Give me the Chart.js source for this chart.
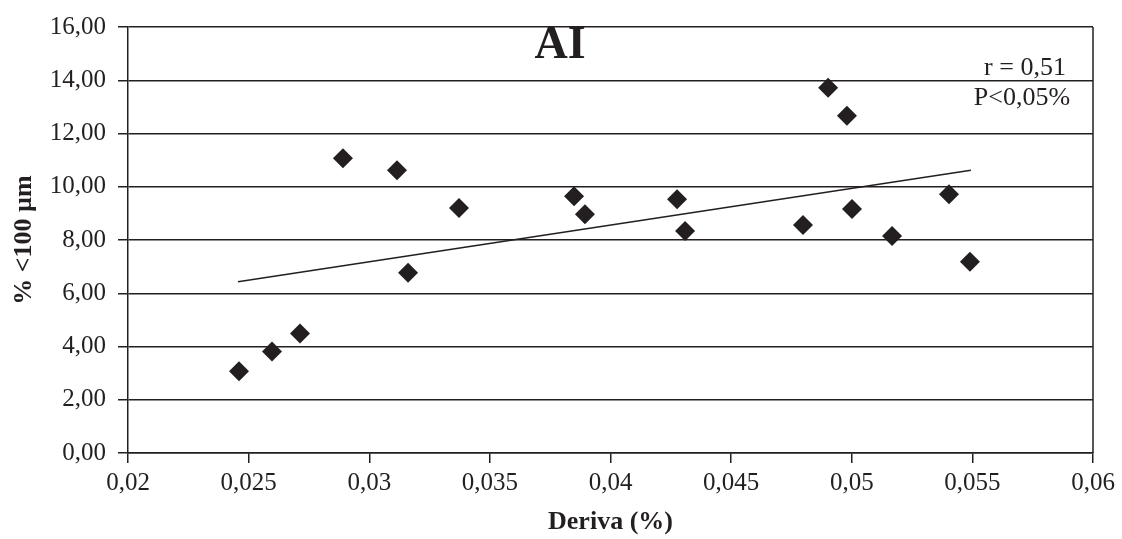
<!DOCTYPE html>
<html>
<head>
<meta charset="utf-8">
<script src="https://cdn.jsdelivr.net/npm/chart.js@4/dist/chart.umd.min.js"></script>
<style>
  body { margin: 0; background: #fff; }
  #wrap { width: 1122px; height: 539px; }
</style>
</head>
<body>
<div id="wrap"><canvas id="chart"></canvas></div>
<script>
// Deriva (%) vs % <100 µm
const derivaX = [0.0246, 0.02597, 0.02713, 0.02891, 0.03115, 0.03161, 0.03372, 0.03849, 0.03894,
                 0.04276, 0.04309, 0.04798, 0.04902, 0.0498, 0.05001, 0.05167, 0.05403, 0.0549];
const fracY = [3.07, 3.81, 4.49, 11.07, 10.62, 6.77, 9.20, 9.64, 8.97,
               9.53, 8.34, 8.56, 13.72, 12.67, 9.16, 8.15, 9.72, 7.18];

// trend line ends
const trendX = [0.02456, 0.05494];
const trendY = [6.43, 10.62];

const titleText = "AI";
const statLines = ["r = 0,51", "P<0,05%"];

const serif = '"Liberation Serif", "Times New Roman", serif';
const ink = '#231f20';

const points = derivaX.map((x, i) => ({ x: x, y: fracY[i] }));
const trend = trendX.map((x, i) => ({ x: x, y: trendY[i] }));

// right frame line + text inside the plot
const extrasPlugin = {
    id: 'extras',
    afterDraw(chart) {
        const ctx = chart.ctx;
        const area = chart.chartArea;
        ctx.save();
        ctx.strokeStyle = ink;
        ctx.lineWidth = 1.5;
        ctx.beginPath();
        ctx.moveTo(area.right, area.top);
        ctx.lineTo(area.right, area.bottom);
        ctx.stroke();

        ctx.fillStyle = ink;
        ctx.textAlign = 'center';
        ctx.textBaseline = 'middle';
        ctx.font = 'bold 46px ' + serif;
        ctx.fillText(titleText, area.left + 432, area.top + 19);

        ctx.textBaseline = 'alphabetic';
        ctx.font = '26px ' + serif;
        ctx.fillText(statLines[0], area.right - 68, area.top + 48);
        ctx.fillText(statLines[1], area.right - 71, area.top + 78);
        ctx.restore();
    }
};

const ctx = document.getElementById('chart');

new Chart(ctx, {
    type: 'scatter',
    data: {
        datasets: [{
            label: 'data',
            data: points,
            pointStyle: 'rectRot',
            pointRadius: 10,
            borderWidth: 0,
            backgroundColor: ink,
            borderColor: ink
        }, {
            type: 'line',
            label: 'trend',
            data: trend,
            pointRadius: 0,
            borderWidth: 1.5,
            borderColor: ink,
            fill: false
        }]
    },
    options: {
        animation: false,
        responsive: true,
        maintainAspectRatio: false,
        layout: { padding: { top: 25, right: 29, left: 0, bottom: 0 } },
        plugins: {
            legend: { display: false },
            tooltip: { enabled: false }
        },
        scales: {
            x: {
                type: 'linear',
                min: 0.02,
                max: 0.06,
                afterFit: (scale) => { scale.height = 86; },
                ticks: {
                    stepSize: 0.005,
                    padding: 5,
                    color: ink,
                    font: { family: serif, size: 25 },
                    callback: (v) => parseFloat(v.toFixed(3)).toString().replace('.', ',')
                },
                grid: { drawOnChartArea: false, drawTicks: true, tickLength: 10, color: ink, lineWidth: 1.5 },
                border: { display: true, color: ink, width: 1.5 },
                title: {
                    display: true,
                    text: 'Deriva (%)',
                    color: ink,
                    font: { family: serif, size: 26, weight: 'bold' },
                    padding: { top: 0, bottom: 1 }
                }
            },
            y: {
                min: 0,
                max: 16,
                afterFit: (scale) => { scale.width = 128; },
                ticks: {
                    stepSize: 2,
                    padding: 12,
                    color: ink,
                    font: { family: serif, size: 25 },
                    callback: (v) => v.toFixed(2).replace('.', ',')
                },
                grid: { drawOnChartArea: true, drawTicks: true, tickLength: 10, color: ink, lineWidth: 1.5 },
                border: { display: true, color: ink, width: 1.5 },
                title: {
                    display: true,
                    text: '% <100 µm',
                    color: ink,
                    font: { family: serif, size: 26, weight: 'bold' },
                    padding: { top: 9, bottom: 0 }
                }
            }
        }
    },
    plugins: [extrasPlugin]
});
</script>
</body>
</html>
